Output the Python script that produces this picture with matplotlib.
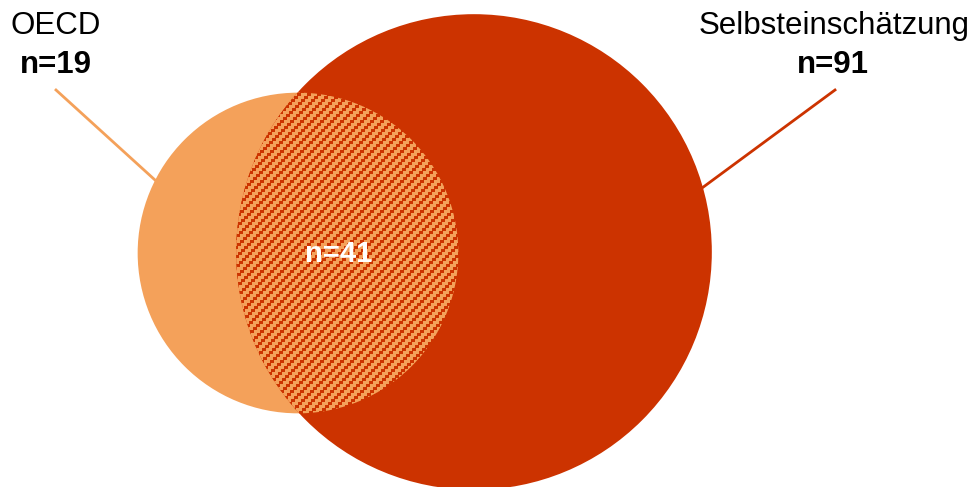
import numpy as np
import matplotlib
matplotlib.use("Agg")
from matplotlib import pyplot as plt
from matplotlib.patches import Circle

# data: set sizes of the venn diagram
sets = ["OECD", "Selbsteinschätzung"]
only_counts = [19, 91]
both_count = 41

orange = "#F4A15A"
darkred = "#CC3300"

W, H = 976, 487
fig = plt.figure(figsize=(W / 100, H / 100), dpi=100)
ax = fig.add_axes([0, 0, 1, 1])
ax.set_xlim(0, W)
ax.set_ylim(H, 0)
ax.axis("off")

# circle areas proportional to set totals
k = 20.7
r_small = k * np.sqrt(only_counts[0] + both_count)
r_big = k * np.sqrt(only_counts[1] + both_count)
c_small = (298, 253)
c_big = (474, 252)

ax.add_patch(Circle(c_small, r_small, color=orange, lw=0, zorder=1))
ax.add_patch(Circle(c_big, r_big, color=darkred, lw=0, zorder=2))

# hatched overlap: diagonal staircase of small squares
yy, xx = np.mgrid[0:H, 0:W]
d1 = np.hypot(xx + 0.5 - c_small[0], yy + 0.5 - c_small[1])
d2 = np.hypot(xx + 0.5 - c_big[0], yy + 0.5 - c_big[1])
alpha = np.minimum(np.clip(r_small - d1 + 0.5, 0, 1), np.clip(r_big - d2 + 0.5, 0, 1))
dark = (xx + 3 * (yy // 3)) % 10 < 4
img = np.zeros((H, W, 4))
light_rgb = np.array(matplotlib.colors.to_rgb(orange))
dark_rgb = np.array(matplotlib.colors.to_rgb(darkred))
img[..., :3] = np.where(dark[..., None], dark_rgb, light_rgb)
img[..., 3] = alpha
ax.imshow(img, extent=(0, W, H, 0), interpolation="nearest", zorder=3, aspect="auto")
ax.set_xlim(0, W)
ax.set_ylim(H, 0)

ax.text(339, 254, "n=%d" % both_count, color="white", fontsize=21, fontweight="bold",
        ha="center", va="center", family="Liberation Sans", zorder=4)

# labels with leader lines
ax.text(56, 26, sets[0], fontsize=22.5, ha="center", va="center", family="Liberation Sans")
ax.text(56, 65, "n=%d" % only_counts[0], fontsize=22.5, fontweight="bold", ha="center",
        va="center", family="Liberation Sans")
ax.plot([56, 155], [90, 180], color=orange, lw=2, zorder=0)

ax.text(834, 26, sets[1], fontsize=22.5, ha="center", va="center", family="Liberation Sans")
ax.text(833, 65, "n=%d" % only_counts[1], fontsize=22.5, fontweight="bold", ha="center",
        va="center", family="Liberation Sans")
ax.plot([835, 702], [90, 188], color=darkred, lw=2, zorder=0)

fig.savefig("out.png", dpi=100)
